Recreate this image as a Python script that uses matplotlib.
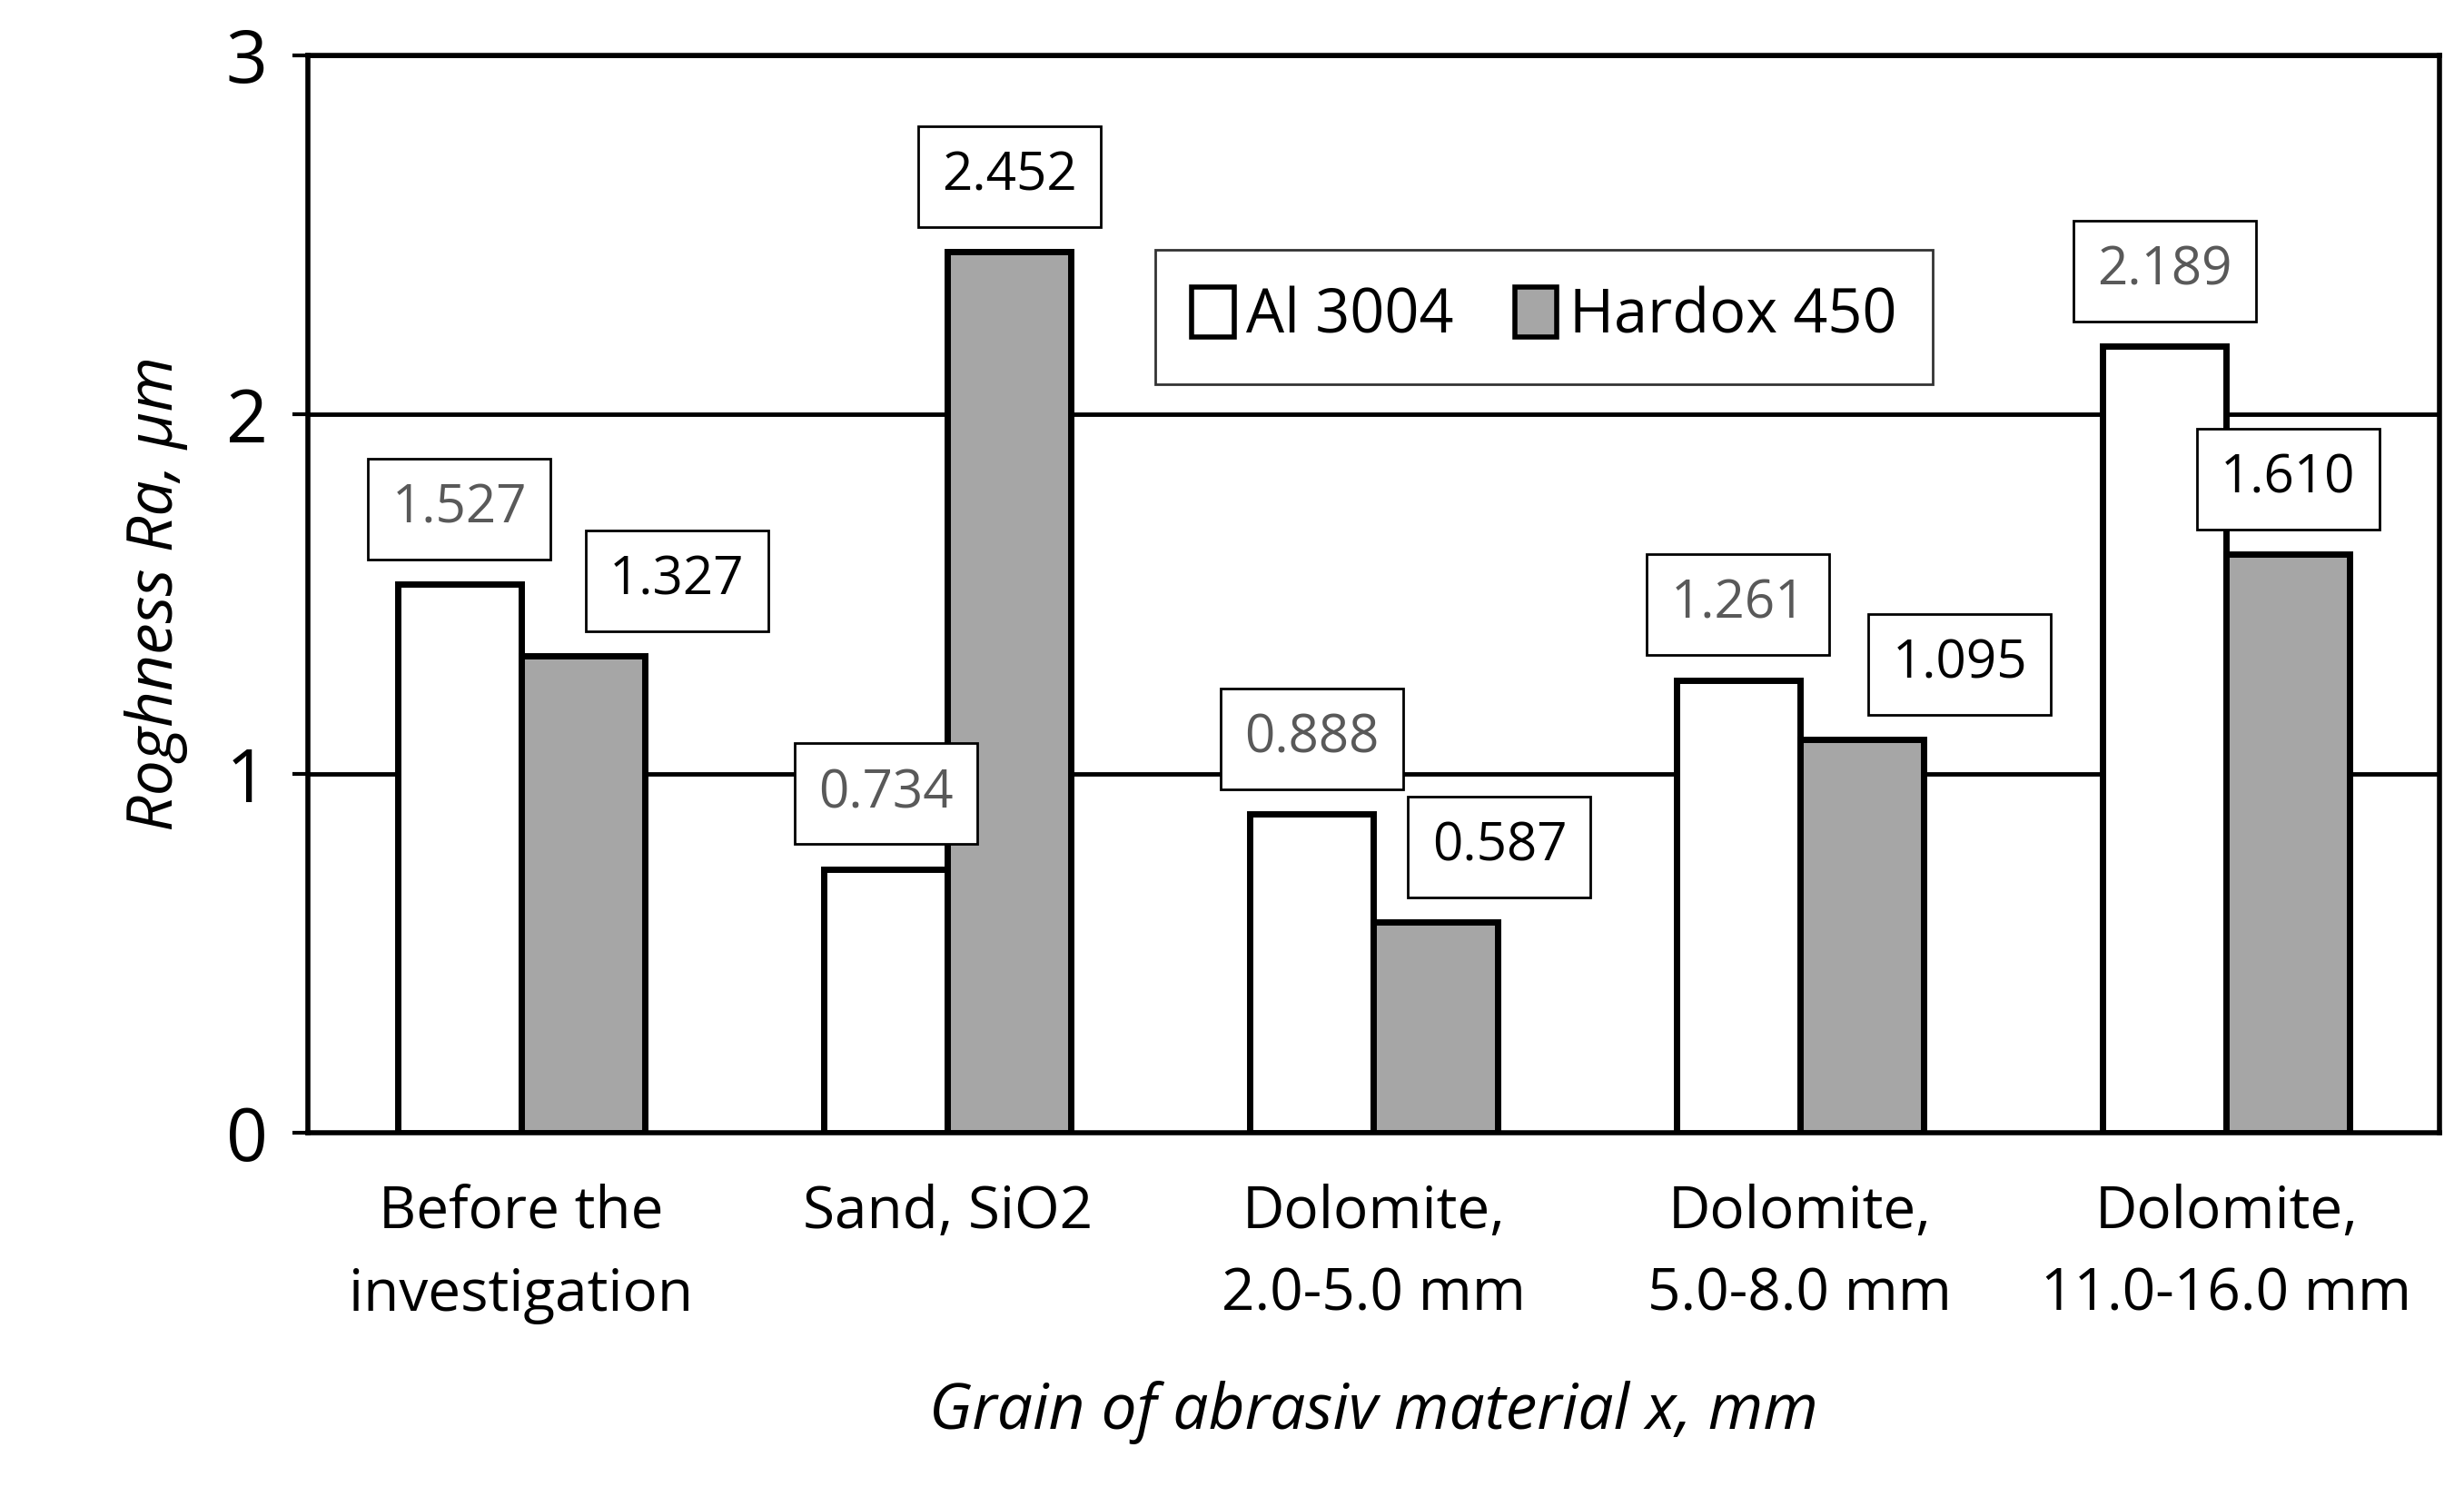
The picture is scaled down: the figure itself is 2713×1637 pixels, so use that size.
import matplotlib
matplotlib.use("Agg")
import matplotlib.pyplot as plt
import numpy as np

categories = ["Before the\ninvestigation", "Sand, SiO2", "Dolomite,\n2.0-5.0 mm",
              "Dolomite,\n5.0-8.0 mm", "Dolomite,\n11.0-16.0 mm"]
al_3004 = [1.527, 0.734, 0.888, 1.261, 2.189]
hardox_450 = [1.327, 2.452, 0.587, 1.095, 1.610]
al_labels = ["1.527", "0.734", "0.888", "1.261", "2.189"]
hx_labels = ["1.327", "2.452", "0.587", "1.095", "1.610"]
hx_label_dx = [0.22, 0.0, 0.15, 0.23, 0.0]

plt.rcParams['font.family'] = ['Open Sans', 'DejaVu Sans']
fig = plt.figure(figsize=(27.13, 16.37), dpi=100)
ax = fig.add_axes([0.125, 0.238, 0.865, 0.725])

x = np.arange(len(categories))
w = 0.29
ax.set_axisbelow(True)
ax.yaxis.grid(True, color='black', linewidth=3.5)
ax.bar(x - w/2, al_3004, w, color='white', edgecolor='black', linewidth=5, label='Al 3004', zorder=3)
ax.bar(x + w/2, hardox_450, w, color='#a6a6a6', edgecolor='black', linewidth=5, label='Hardox 450', zorder=3)

box = dict(boxstyle='square,pad=0.45', facecolor='white', edgecolor='black', linewidth=2)
for i in range(len(x)):
    ax.text(x[i] - w/2, al_3004[i] + 0.21, al_labels[i], ha='center', va='center',
            fontsize=42, color='#595959', bbox=box, zorder=5)
    ax.text(x[i] + w/2 + hx_label_dx[i], hardox_450[i] + 0.21, hx_labels[i], ha='center', va='center',
            fontsize=42, color='black', bbox=box, zorder=5)

ax.set_xlim(-0.5, 4.5)
ax.set_ylim(0, 3)
ax.set_yticks([0, 1, 2, 3])
ax.tick_params(axis='y', labelsize=58, length=12, width=3, pad=20)
ax.tick_params(axis='x', labelsize=46, length=0, pad=40)
ax.set_xticks(x)
ax.set_xticklabels(categories, linespacing=1.55)
for s in ax.spines.values():
    s.set_linewidth(4)
ax.set_ylabel('Roghness Ra, μm', fontsize=50, style='italic', labelpad=30)
ax.set_xlabel('Grain of abrasiv material x, mm', fontsize=50, style='italic', labelpad=45)

leg = ax.legend(loc='center', bbox_to_anchor=(0.58, 0.757), ncol=2, fontsize=48,
                frameon=True, fancybox=False, edgecolor='black', handlelength=0.7,
                handleheight=0.9, handletextpad=0.2, columnspacing=1.0, borderpad=0.6)
leg.get_frame().set_linewidth(2)
for h in leg.legend_handles:
    h.set_linewidth(4)

fig.savefig('out.png', dpi=100)
